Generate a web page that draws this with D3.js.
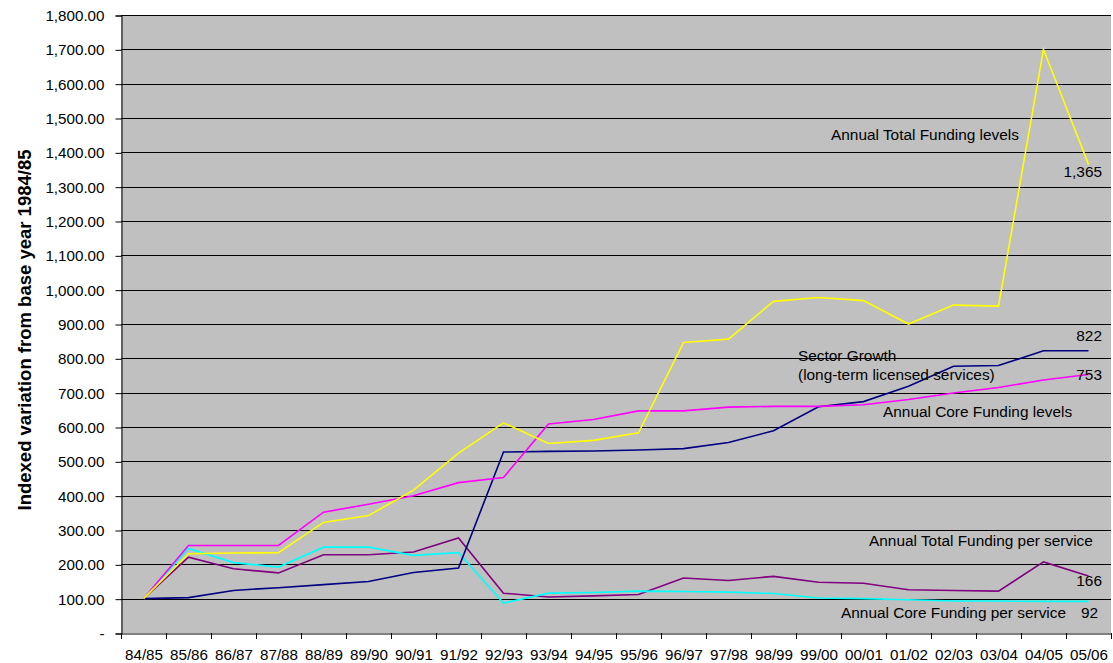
<!DOCTYPE html>
<html>
<head>
<meta charset="utf-8">
<script src="https://cdn.jsdelivr.net/npm/d3@7"></script>
<style>
  html, body { margin: 0; padding: 0; background: #fff; }
  svg { display: block; }
  text { font-family: Arial, "Liberation Sans", sans-serif; fill: #000; }
</style>
</head>
<body>
<svg id="chart" width="1113" height="663"></svg>
<script>
const years = ["84/85","85/86","86/87","87/88","88/89","89/90","90/91","91/92","92/93","93/94","94/95","95/96","96/97","97/98","98/99","99/00","00/01","01/02","02/03","03/04","04/05","05/06"];
const sectorGrowth     = [100,103,124,132,141,150,176,189,527,529,530,533,537,555,589,659,674,719,777,779,822,822];
const totalFunding     = [100,231,233,234,322,342,416,524,612,552,561,583,846,856,966,977,968,900,955,952,1700,1365];
const coreFunding      = [100,255,255,255,352,375,400,438,453,609,622,647,647,658,660,660,665,680,699,715,737,753];
const totalPerService  = [100,221,187,175,228,228,236,277,116,105,108,112,160,153,165,148,145,126,124,122,207,166];
const corePerService   = [100,246,205,192,250,250,226,234,87,116,118,122,121,119,115,102,100,97,93,93,92,92];
const yTicks = d3.range(0, 1801, 100);

const series = [
  {name: "Annual Total Funding per service", values: totalPerService, color: "#800080"},
  {name: "Annual Core Funding per service", values: corePerService, color: "#00ffff"},
  {name: "Sector Growth", values: sectorGrowth, color: "#000080"},
  {name: "Annual Core Funding levels", values: coreFunding, color: "#ff00ff"},
  {name: "Annual Total Funding levels", values: totalFunding, color: "#ffff00"}
];

const L = 121, R = 1111, T = 15, B = 633;
const svg = d3.select("#chart");

const x = d3.scaleBand().domain(years).range([L, R]).padding(0);
const y = d3.scaleLinear().domain([0, 1800]).range([B, T]);
const cx = d => x(d) + x.bandwidth() / 2;

// plot background
svg.append("rect").attr("x", L).attr("y", T).attr("width", R - L).attr("height", B - T).attr("fill", "#c0c0c0");

// gridlines
svg.append("g").selectAll("line").data(yTicks.filter(v => v > 0)).join("line")
  .attr("x1", L).attr("x2", R)
  .attr("y1", d => Math.round(y(d)) + 0.5).attr("y2", d => Math.round(y(d)) + 0.5)
  .attr("stroke", "#000").attr("stroke-width", 1);

// y axis
const yAxis = d3.axisLeft(y).tickValues(yTicks).tickSize(6).tickPadding(11)
  .tickFormat(v => v === 0 ? "-" : d3.format(",.2f")(v));
const gy = svg.append("g").attr("transform", `translate(${L + 0.5},0.5)`).call(yAxis);
gy.select(".domain").attr("stroke", "#000");
gy.selectAll(".tick line").attr("stroke", "#000");
gy.selectAll(".tick text").attr("font-size", "15.2px").attr("font-family", "Arial, 'Liberation Sans', sans-serif").attr("fill", "#000");

// x axis
const xAxis = d3.axisBottom(x).tickSize(0).tickPadding(0);
const gx = svg.append("g").attr("transform", `translate(0.5,${B + 0.5})`).call(xAxis);
gx.select(".domain").attr("stroke", "#000");
gx.selectAll(".tick text").attr("font-size", "15.2px").attr("font-family", "Arial, 'Liberation Sans', sans-serif").attr("fill", "#000").attr("dy", null).attr("y", 26);
// tick marks at category boundaries
svg.append("g").selectAll("line").data(years.concat(["_end"])).join("line")
  .attr("x1", (d, i) => Math.round(L + i * x.bandwidth()) + 0.5)
  .attr("x2", (d, i) => Math.round(L + i * x.bandwidth()) + 0.5)
  .attr("y1", B).attr("y2", B + 6)
  .attr("stroke", "#000");

// lines
const line = d3.line().x((d, i) => cx(years[i])).y(d => y(d));
svg.append("g").selectAll("path").data(series).join("path")
  .attr("d", s => line(s.values))
  .attr("fill", "none")
  .attr("stroke", s => s.color)
  .attr("stroke-width", 1.6)
  .attr("stroke-linejoin", "miter");

// annotations
const ann = [
  {t: "Annual Total Funding levels", x: 831, v: 1453, a: "start"},
  {t: "1,365", x: 1102, v: 1344, a: "end"},
  {t: "822", x: 1102, v: 865, a: "end"},
  {t: "Sector Growth", x: 798, v: 808, a: "start"},
  {t: "(long-term licensed services)", x: 798, v: 752, a: "start"},
  {t: "753", x: 1102, v: 752, a: "end"},
  {t: "Annual Core Funding levels", x: 883, v: 644, a: "start"},
  {t: "Annual Total Funding per service", x: 869, v: 268, a: "start"},
  {t: "166", x: 1102, v: 152, a: "end"},
  {t: "Annual Core Funding per service", x: 841, v: 59, a: "start"},
  {t: "92", x: 1098, v: 59, a: "end"}
];
svg.append("g").selectAll("text").data(ann).join("text")
  .attr("x", d => d.x).attr("y", d => y(d.v)).attr("dy", "0.35em")
  .attr("text-anchor", d => d.a)
  .attr("font-size", "15.4px")
  .attr("fill", "#111")
  .text(d => d.t);

// y axis title
svg.append("text")
  .attr("transform", `translate(31,${(T + B) / 2 + 6}) rotate(-90)`)
  .attr("text-anchor", "middle")
  .attr("font-size", "18.5px")
  .attr("font-weight", "bold")
  .text("Indexed variation from base year 1984/85");
</script>
</body>
</html>
